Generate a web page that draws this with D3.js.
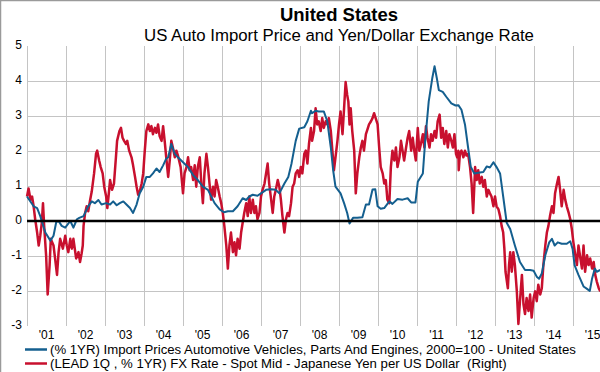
<html>

<head>
    <script src="https://d3js.org/d3.v7.min.js"></script>
    <style>
        body { margin: 0; background: white; }
        text { font-family: "Liberation Sans", Arial, sans-serif; fill: #000; }
    </style>
</head>

<body>
    <svg id="svg" width="600" height="372"></svg>
    <script>
        // axis ticks / labels
        const yTicks = [-3, -2, -1, 0, 1, 2, 3, 4, 5];
        const gridYears = [2001, 2002, 2003, 2004, 2005, 2006, 2007, 2008, 2009, 2010, 2011, 2012, 2013, 2014, 2015];
        const yearLabels = ["'01", "'02", "'03", "'04", "'05", "'06", "'07", "'08", "'09", "'10", "'11", "'12", "'13", "'14", "'15"];
        const seriesNames = [
            "(% 1YR) Import Prices Automotive Vehicles, Parts And Engines, 2000=100 - United States",
            "(LEAD 1Q , % 1YR) FX Rate - Spot Mid - Japanese Yen per US Dollar  (Right)"
        ];

        // blue: import prices, % 1yr (decimal years)
        const importDates = [2001.00, 2001.17, 2001.26, 2001.34, 2001.47, 2001.60, 2001.68, 2001.75, 2001.81, 2001.89,
            2001.98, 2002.11, 2002.19, 2002.28, 2002.34, 2002.45, 2002.57, 2002.66, 2002.74, 2002.83,
            2002.91, 2003.03, 2003.13, 2003.21, 2003.30, 2003.38, 2003.47, 2003.55, 2003.64, 2003.72,
            2003.81, 2003.89, 2003.98, 2004.06, 2004.15, 2004.23, 2004.32, 2004.40, 2004.49, 2004.57,
            2004.62, 2004.70, 2004.79, 2004.87, 2005.00, 2005.13, 2005.26, 2005.38, 2005.51, 2005.64,
            2005.81, 2005.94, 2006.05, 2006.15, 2006.28, 2006.40, 2006.53, 2006.62, 2006.70, 2006.79,
            2006.91, 2007.00, 2007.13, 2007.26, 2007.38, 2007.47, 2007.60, 2007.70, 2007.78, 2007.89,
            2007.98, 2008.11, 2008.19, 2008.28, 2008.31, 2008.40, 2008.48, 2008.61, 2008.70, 2008.79,
            2008.85, 2008.91, 2009.04, 2009.13, 2009.21, 2009.27, 2009.36, 2009.47, 2009.60, 2009.69,
            2009.77, 2009.86, 2009.93, 2009.99, 2010.07, 2010.16, 2010.29, 2010.37, 2010.50, 2010.63,
            2010.76, 2010.85, 2010.96, 2011.02, 2011.15, 2011.21, 2011.30, 2011.39, 2011.45, 2011.51,
            2011.56, 2011.66, 2011.75, 2011.88, 2011.99, 2012.06, 2012.14, 2012.23, 2012.31, 2012.38,
            2012.47, 2012.57, 2012.70, 2012.79, 2012.87, 2012.96, 2013.04, 2013.13, 2013.21, 2013.30,
            2013.39, 2013.51, 2013.64, 2013.77, 2013.90, 2013.99, 2014.07, 2014.13, 2014.20, 2014.29,
            2014.39, 2014.46, 2014.53, 2014.61, 2014.71, 2014.84, 2014.93, 2014.99, 2015.04, 2015.14,
            2015.27, 2015.36, 2015.43, 2015.49, 2015.56, 2015.61, 2015.70];
        const importValues = [0.70, 0.42, 0.37, 0.14, -0.33, -0.56, -0.42, -0.03, 0.00, -0.14,
            -0.19, 0.00, -0.19, 0.05, 0.09, 0.14, 0.42, 0.56, 0.51, 0.60,
            0.47, 0.51, 0.47, 0.56, 0.45, 0.51, 0.56, 0.47, 0.37, 0.23,
            0.47, 0.79, 0.98, 1.26, 1.26, 1.36, 1.50, 1.40, 1.59, 1.78,
            1.82, 2.20, 1.92, 1.82, 1.68, 1.54, 1.31, 1.17, 0.98, 0.89,
            0.51, 0.33, 0.25, 0.28, 0.28, 0.42, 0.65, 0.60, 0.70, 0.75,
            0.72, 0.79, 0.89, 0.91, 0.89, 0.79, 1.07, 1.26, 1.63, 2.29,
            2.64, 2.68, 2.85, 3.15, 3.08, 3.15, 3.13, 3.13, 2.85, 2.10,
            1.45, 0.98, 0.79, 0.51, 0.23, -0.07, 0.09, 0.09, 0.11, 0.47,
            0.47, 0.90, 0.91, 0.42, 0.35, 0.37, 0.56, 0.49, 0.63, 0.61,
            0.65, 0.53, 0.53, 1.12, 1.36, 2.29, 3.41, 4.07, 4.42, 4.07,
            3.74, 3.69, 3.55, 3.36, 3.30, 3.31, 3.18, 2.76, 2.10, 1.54,
            1.36, 1.38, 1.40, 1.56, 1.53, 1.68, 1.54, 1.36, 0.70, -0.05,
            -0.23, -0.70, -1.17, -1.40, -1.40, -1.42, -1.59, -1.65, -1.50, -0.98,
            -0.61, -0.51, -0.70, -0.61, -0.65, -0.65, -0.58, -0.80, -1.26, -1.54,
            -1.87, -1.94, -2.00, -1.64, -1.36, -1.45, -1.40];

        // red: yen per dollar, lead 1Q, % 1yr (right axis)
        const fxDates = [2001.00, 2001.04, 2001.09, 2001.13, 2001.17, 2001.21, 2001.26, 2001.30, 2001.34, 2001.38,
            2001.41, 2001.44, 2001.49, 2001.53, 2001.58, 2001.61, 2001.68, 2001.72, 2001.77, 2001.81,
            2001.85, 2001.92, 2001.98, 2002.02, 2002.06, 2002.11, 2002.15, 2002.19, 2002.26, 2002.32,
            2002.36, 2002.40, 2002.43, 2002.45, 2002.49, 2002.53, 2002.57, 2002.62, 2002.66, 2002.72,
            2002.77, 2002.80, 2002.85, 2002.89, 2002.94, 2002.98, 2003.03, 2003.06, 2003.09, 2003.13,
            2003.18, 2003.23, 2003.28, 2003.31, 2003.37, 2003.41, 2003.45, 2003.49, 2003.54, 2003.57,
            2003.62, 2003.68, 2003.72, 2003.77, 2003.81, 2003.85, 2003.89, 2003.94, 2003.98, 2004.02,
            2004.06, 2004.11, 2004.15, 2004.19, 2004.23, 2004.28, 2004.32, 2004.36, 2004.40, 2004.45,
            2004.49, 2004.53, 2004.57, 2004.62, 2004.66, 2004.70, 2004.74, 2004.79, 2004.83, 2004.87,
            2004.94, 2004.97, 2005.00, 2005.04, 2005.09, 2005.13, 2005.17, 2005.21, 2005.26, 2005.30,
            2005.34, 2005.38, 2005.43, 2005.47, 2005.51, 2005.55, 2005.60, 2005.64, 2005.68, 2005.72,
            2005.77, 2005.81, 2005.85, 2005.89, 2005.94, 2005.98, 2006.02, 2006.06, 2006.11, 2006.15,
            2006.19, 2006.23, 2006.28, 2006.32, 2006.36, 2006.40, 2006.45, 2006.49, 2006.53, 2006.57,
            2006.62, 2006.66, 2006.70, 2006.74, 2006.79, 2006.83, 2006.87, 2006.91, 2006.96, 2007.00,
            2007.04, 2007.09, 2007.13, 2007.17, 2007.21, 2007.26, 2007.30, 2007.34, 2007.38, 2007.43,
            2007.47, 2007.51, 2007.55, 2007.60, 2007.64, 2007.68, 2007.72, 2007.77, 2007.81, 2007.85,
            2007.89, 2007.94, 2007.98, 2008.02, 2008.06, 2008.11, 2008.15, 2008.19, 2008.23, 2008.28,
            2008.31, 2008.36, 2008.40, 2008.44, 2008.48, 2008.53, 2008.57, 2008.61, 2008.66, 2008.70,
            2008.74, 2008.79, 2008.83, 2008.87, 2008.91, 2008.96, 2009.00, 2009.04, 2009.09, 2009.13,
            2009.17, 2009.21, 2009.24, 2009.27, 2009.30, 2009.34, 2009.39, 2009.43, 2009.47, 2009.52,
            2009.56, 2009.60, 2009.64, 2009.69, 2009.73, 2009.77, 2009.82, 2009.86, 2009.90, 2009.94,
            2009.99, 2010.03, 2010.07, 2010.12, 2010.16, 2010.20, 2010.24, 2010.29, 2010.33, 2010.37,
            2010.42, 2010.46, 2010.50, 2010.55, 2010.59, 2010.63, 2010.67, 2010.72, 2010.76, 2010.80,
            2010.85, 2010.89, 2010.93, 2010.97, 2011.02, 2011.06, 2011.10, 2011.15, 2011.19, 2011.23,
            2011.27, 2011.32, 2011.36, 2011.40, 2011.45, 2011.49, 2011.53, 2011.58, 2011.62, 2011.66,
            2011.70, 2011.75, 2011.79, 2011.83, 2011.88, 2011.92, 2011.96, 2012.00, 2012.03, 2012.06,
            2012.07, 2012.10, 2012.14, 2012.19, 2012.23, 2012.27, 2012.31, 2012.36, 2012.40, 2012.44,
            2012.49, 2012.53, 2012.57, 2012.61, 2012.66, 2012.70, 2012.74, 2012.79, 2012.83, 2012.87,
            2012.91, 2012.96, 2013.00, 2013.04, 2013.09, 2013.13, 2013.17, 2013.21, 2013.24, 2013.27,
            2013.33, 2013.36, 2013.39, 2013.43, 2013.47, 2013.51, 2013.56, 2013.60, 2013.64, 2013.69,
            2013.73, 2013.77, 2013.81, 2013.86, 2013.90, 2013.94, 2013.99, 2014.03, 2014.07, 2014.11,
            2014.16, 2014.20, 2014.24, 2014.29, 2014.33, 2014.37, 2014.41, 2014.46, 2014.50, 2014.54,
            2014.59, 2014.63, 2014.67, 2014.71, 2014.76, 2014.80, 2014.84, 2014.89, 2014.93, 2014.97,
            2015.01, 2015.06, 2015.10, 2015.14, 2015.19, 2015.23, 2015.27, 2015.31, 2015.36, 2015.40,
            2015.44, 2015.49, 2015.53, 2015.57, 2015.61, 2015.66, 2015.70];
        const fxValues = [0.70, 0.93, 0.61, 0.70, 0.42, 0.05, -0.33, -0.70, -0.42, -0.05,
            0.51, -0.14, -0.98, -2.10, -1.26, -0.51, -0.70, -1.07, -1.54, -0.89,
            -0.51, -0.79, -0.42, -0.70, -0.89, -0.51, -0.79, -0.51, -1.07, -0.89,
            -1.17, -0.93, -0.70, -0.14, 0.23, 0.42, 0.28, 0.61, 0.84, 1.36,
            1.92, 2.01, 1.73, 1.54, 1.36, 0.98, 0.70, 0.37, 0.70, 1.17,
            0.89, 1.07, 1.82, 2.29, 2.57, 2.66, 2.38, 2.29, 2.20, 2.29,
            2.01, 1.82, 1.59, 1.26, 0.98, 0.75, 0.84, 1.07, 1.36, 2.01,
            2.57, 2.76, 2.57, 2.71, 2.48, 2.66, 2.52, 2.76, 2.43, 2.29,
            2.71, 2.29, 1.82, 1.26, 1.73, 2.29, 2.10, 1.82, 2.01, 1.87,
            1.54, 1.17, 0.79, 1.36, 1.54, 1.82, 1.45, 1.54, 1.17, 1.59,
            0.98, 1.54, 1.82, 1.07, 0.51, 1.36, 1.92, 1.54, 1.07, 0.61,
            0.98, 0.70, 1.17, 0.98, 0.70, 0.51, 0.23, -0.14, -0.70, -1.36,
            -0.70, -0.33, -0.89, -0.61, -0.98, -0.51, -0.79, -0.33, -0.05, 0.23,
            0.51, 0.14, 0.70, 0.23, 0.61, 0.23, 0.42, 0.05, 0.23, 0.70,
            0.89, 1.07, 1.36, 1.64, 1.07, 0.61, 0.23, 0.70, 0.89, 1.17,
            0.98, 0.61, 0.14, -0.33, 0.05, 0.23, 0.14, 0.51, 0.98, 1.07,
            1.36, 1.45, 1.26, 1.54, 1.36, 1.92, 2.01, 1.64, 2.20, 2.66,
            2.29, 2.57, 3.22, 2.76, 2.85, 2.57, 2.94, 2.66, 2.85, 2.76,
            2.94, 2.57, 2.01, 1.45, 1.82, 2.29, 2.76, 3.13, 2.48, 3.22,
            3.97, 3.60, 3.41, 2.76, 3.22, 2.57, 2.01, 0.79, 1.36, 1.82,
            2.10, 2.29, 2.01, 2.48, 2.62, 2.76, 2.85, 2.94, 3.08, 2.94,
            2.76, 2.10, 1.54, 1.36, 1.07, 1.17, 0.61, 0.51, 1.54, 2.01,
            1.73, 2.10, 1.54, 1.82, 2.29, 2.01, 1.73, 2.10, 2.38, 2.57,
            2.01, 2.38, 2.01, 1.73, 2.66, 2.01, 2.20, 2.48, 2.10, 2.71,
            2.38, 2.10, 2.48, 2.29, 2.57, 2.38, 2.85, 3.04, 2.38, 2.66,
            2.20, 2.57, 2.10, 2.48, 2.29, 2.10, 2.48, 1.92, 1.82, 2.01,
            1.45, 1.92, 2.01, 1.82, 2.01, 1.87, 1.92, 1.54, 1.07, 0.23,
            1.54, 1.17, 1.45, 1.07, 1.26, 0.98, 1.17, 0.70, 0.89, 0.79,
            0.70, 0.42, 0.70, 0.42, 0.33, 0.14, -0.14, -0.33, -0.79, -1.45,
            -1.92, -1.26, -0.89, -1.45, -0.89, -1.26, -2.01, -2.94, -2.29, -1.54,
            -2.38, -2.66, -2.20, -2.57, -2.10, -2.76, -2.20, -2.01, -2.29, -1.82,
            -2.10, -1.92, -1.26, -0.70, -0.33, -0.14, 0.14, 0.42, 0.23, 0.79,
            1.07, 1.26, 0.89, 0.42, 0.89, 0.61, 0.42, 0.23, 0.05, -0.23,
            -0.61, -0.98, -1.26, -0.70, -1.07, -1.36, -0.70, -1.45, -0.98, -1.26,
            -1.07, -1.36, -1.17, -1.54, -1.73, -1.92, -2.01];

        const svg = d3.select('#svg');
        const width = +svg.attr("width");
        const height = +svg.attr("height");
        const margin = { top: 46, right: 0, bottom: 46, left: 27 };
        const plotBottom = height - margin.bottom;

        const xScale = d3.scaleLinear().domain([2001, 2001 + 573 / 39]).range([margin.left, width - margin.right]);
        const yScale = d3.scaleLinear().domain([-3, 5]).range([plotBottom, margin.top]);
        // right axis shares the same span, its labels are not shown on the original
        const yRight = d3.scaleLinear().domain([-3, 5]).range([plotBottom, margin.top]);

        // outer frame (left + top edges visible)
        svg.append("rect")
            .attr("x", 0.5).attr("y", 0.5)
            .attr("width", width + 10).attr("height", height + 10)
            .style("fill", "none").style("stroke", "#9a9a9a").style("stroke-width", 1.5);

        // titles
        svg.append("text")
            .attr("x", 339).attr("y", 21)
            .style("text-anchor", "middle")
            .style("font-size", "18.5px").style("font-weight", "bold")
            .text("United States");
        svg.append("text")
            .attr("x", 339).attr("y", 41)
            .style("text-anchor", "middle")
            .style("font-size", "16.8px")
            .text("US Auto Import Price and Yen/Dollar Exchange Rate");

        const grid = svg.append("g").attr("id", "grid");
        grid.selectAll("line.vgrid").data(gridYears)
            .join("line")
            .attr("class", "vgrid")
            .attr("x1", d => Math.round(xScale(d)) + 0.5).attr("x2", d => Math.round(xScale(d)) + 0.5)
            .attr("y1", margin.top).attr("y2", plotBottom)
            .style("stroke", "#c4c4c4").style("stroke-width", 1);
        grid.selectAll("line.hgrid").data(yTicks.filter(t => t > -3 && t < 5 && t !== 0))
            .join("line")
            .attr("class", "hgrid")
            .attr("x1", margin.left).attr("x2", width)
            .attr("y1", d => Math.round(yScale(d)) + 0.5).attr("y2", d => Math.round(yScale(d)) + 0.5)
            .style("stroke", "#c4c4c4").style("stroke-width", 1);

        // y labels
        svg.append("g").selectAll("text").data(yTicks)
            .join("text")
            .attr("x", 22)
            .attr("y", d => yScale(d))
            .style("text-anchor", "end")
            .style("dominant-baseline", "middle")
            .style("font-size", "12px")
            .text(d => d);

        // x labels centred in each year
        svg.append("g").selectAll("text").data(yearLabels)
            .join("text")
            .attr("x", (d, i) => xScale(gridYears[i] + 0.5))
            .attr("y", plotBottom + 13)
            .style("text-anchor", "middle")
            .style("font-size", "12px")
            .text(d => d);

        const chartArea = svg.append("g").attr("id", "lines");
        const fxLine = d3.line().x(d => xScale(d[0])).y(d => yRight(d[1]));
        const importLine = d3.line().x(d => xScale(d[0])).y(d => yScale(d[1]));

        chartArea.append("path")
            .datum(d3.zip(fxDates, fxValues))
            .attr("d", fxLine)
            .style("fill", "none").style("stroke", "#c8102e").style("stroke-width", 2.5)
            .style("stroke-linejoin", "round");
        chartArea.append("path")
            .datum(d3.zip(importDates, importValues))
            .attr("d", importLine)
            .style("fill", "none").style("stroke", "#145f8f").style("stroke-width", 2)
            .style("stroke-linejoin", "round");

        // zero line
        svg.append("line")
            .attr("x1", margin.left).attr("x2", width)
            .attr("y1", yScale(0)).attr("y2", yScale(0))
            .style("stroke", "#000").style("stroke-width", 2.5);

        // legend
        const legendColors = ["#145f8f", "#c8102e"];
        const legend = svg.append("g").attr("id", "legend");
        legend.selectAll("line").data(seriesNames)
            .join("line")
            .attr("x1", 25).attr("x2", 47)
            .attr("y1", (d, i) => 349.5 + i * 14).attr("y2", (d, i) => 349.5 + i * 14)
            .style("stroke", (d, i) => legendColors[i]).style("stroke-width", 2.5);
        legend.selectAll("text").data(seriesNames)
            .join("text")
            .attr("x", 50)
            .attr("y", (d, i) => 354 + i * 14)
            .style("font-size", "13.2px")
            .style("white-space", "pre")
            .text(d => d);
    </script>
</body>

</html>
